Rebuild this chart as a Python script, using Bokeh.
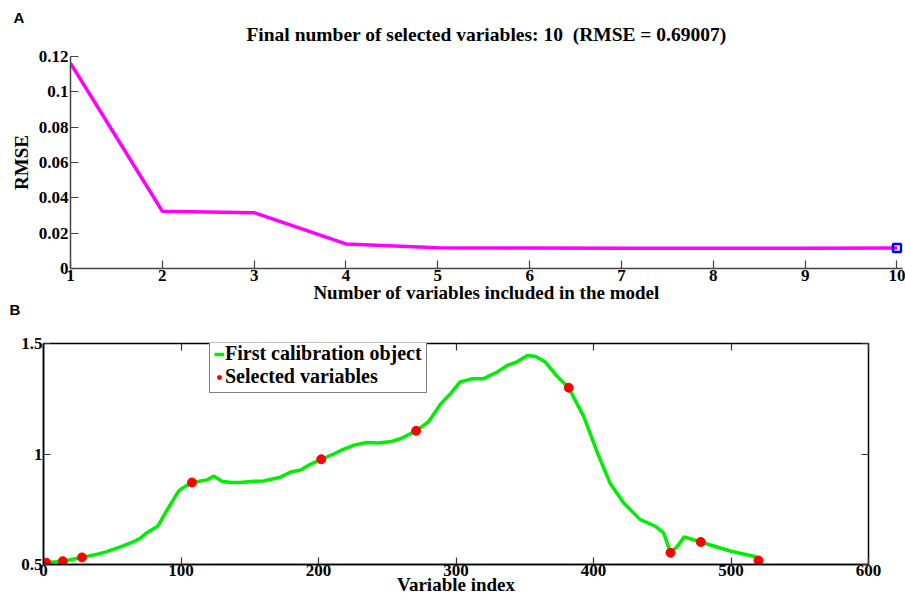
from bokeh.plotting import figure
from bokeh.models import (FixedTicker, LinearAxis, Legend, LegendItem, Range1d, Title,
                          CustomJSTickFormatter)
from bokeh.embed import file_html
from bokeh.resources import INLINE

# ---------------- data ----------------
n_vars = [1, 2, 3, 4, 5, 6, 7, 8, 9, 10]
rmse = [0.1162, 0.0324, 0.0316, 0.0139, 0.0118, 0.0116, 0.0115, 0.0115, 0.0115, 0.0116]
final_n = [10]
final_rmse = [0.0116]

top_yticks = [0, 0.02, 0.04, 0.06, 0.08, 0.1, 0.12]
top_ylabels = ["0", "0.02", "0.04", "0.06", "0.08", "0.1", "0.12"]
top_xticks = [1, 2, 3, 4, 5, 6, 7, 8, 9, 10]

var_index = [0, 2, 14, 28, 40, 46, 58, 66, 70, 75, 83, 90, 98, 100, 108, 119, 124, 130,
             137, 143, 153, 160, 172, 180, 187, 194, 202, 211, 218, 226, 235, 243, 252,
             260, 271, 280, 289, 296, 303, 312, 320, 330, 337, 344, 352, 358, 365, 374,
             382, 393, 403, 412, 422, 434, 445, 451, 456, 461, 466, 478, 500, 518, 520]
spectrum = [0.507, 0.508, 0.515, 0.532, 0.548, 0.558, 0.584, 0.605, 0.617, 0.643, 0.673,
            0.748, 0.830, 0.842, 0.871, 0.883, 0.900, 0.876, 0.871, 0.871, 0.877, 0.878,
            0.895, 0.919, 0.928, 0.953, 0.976, 1.000, 1.021, 1.040, 1.052, 1.050, 1.055,
            1.070, 1.105, 1.146, 1.228, 1.273, 1.326, 1.341, 1.341, 1.371, 1.400, 1.416,
            1.446, 1.441, 1.416, 1.348, 1.300, 1.168, 1.003, 0.868, 0.778, 0.703, 0.673,
            0.643, 0.553, 0.582, 0.625, 0.602, 0.560, 0.535, 0.525]
sel_index = [2, 14, 28, 108, 202, 271, 382, 456, 478, 520]
sel_value = [0.508, 0.515, 0.532, 0.871, 0.976, 1.105, 1.300, 0.553, 0.602, 0.518]

bot_xticks = [0, 100, 200, 300, 400, 500, 600]
bot_yticks = [0.5, 1, 1.5]
bot_ylabels = ["0.5", "1", "1.5"]

title_text = "Final number of selected variables: 10\u00a0 (RMSE = 0.69007)"

SERIF = "Liberation Serif"
SANS = "Liberation Sans"


def style_axis(ax, tick_color, tick_len):
    ax.major_tick_line_color = tick_color
    ax.major_tick_line_width = 1.2
    ax.major_tick_in = tick_len
    ax.major_tick_out = 0
    ax.minor_tick_line_color = None
    ax.major_label_text_font = SERIF
    ax.major_label_text_font_style = "bold"
    ax.major_label_text_font_size = "17px"
    ax.major_label_text_color = "black"
    ax.axis_label_text_font = SERIF
    ax.axis_label_text_font_style = "bold"
    ax.axis_label_text_font_size = "19px"
    ax.axis_label_text_color = "black"


# ---------------- panel A ----------------
letter_a = Title(text="A", align="left", offset=-57, standoff=-32,
                 text_font=SANS, text_font_style="bold", text_font_size="15px",
                 text_color="black")
p1 = figure(width=905, height=325, output_backend="svg", toolbar_location=None,
            title=letter_a,
            x_range=Range1d(1, 10.06), y_range=Range1d(0, 0.12),
            min_border_left=70, min_border_right=3, min_border_top=56, min_border_bottom=57)
main_title = Title(text=title_text, align="center", standoff=24,
                   text_font=SERIF, text_font_size="19.5px", text_font_style="bold",
                   text_color="black")
p1.add_layout(main_title, "above")
letter_b = Title(text="B", align="left", offset=-61, standoff=-13,
                 text_font=SANS, text_font_style="bold", text_font_size="15px",
                 text_color="black")
p1.add_layout(letter_b, "below")

p1.outline_line_color = None
p1.xgrid.visible = False
p1.ygrid.visible = False

p1.line(n_vars, rmse, line_color="#FF00FF", line_width=3.5)
p1.scatter(final_n, final_rmse, marker="square", size=8, line_color="#0000FF",
           fill_color=None, line_width=2.5)

for ax in (p1.xaxis[0], p1.yaxis[0]):
    ax.axis_line_color = "#444444"
    ax.axis_line_width = 1.5
    style_axis(ax, "#444444", 8)

p1.xaxis.ticker = FixedTicker(ticks=top_xticks)
p1.xaxis.axis_label = "Number of variables included in the model"
p1.xaxis.major_label_standoff = 1
p1.xaxis.axis_label_standoff = -2
p1.yaxis.ticker = FixedTicker(ticks=top_yticks)
p1.yaxis.major_label_overrides = {t: l for t, l in zip(top_yticks, top_ylabels)}
p1.yaxis.axis_label = "RMSE"
p1.yaxis.major_label_standoff = 2
p1.yaxis.axis_label_standoff = 4

# ---------------- panel B ----------------
p2 = figure(width=905, height=275, output_backend="svg", toolbar_location=None,
            x_range=Range1d(0, 600), y_range=Range1d(0.5, 1.5),
            min_border_left=43, min_border_right=37, min_border_top=18, min_border_bottom=36)
p2.outline_line_color = "black"
p2.outline_line_width = 1.5
p2.xgrid.visible = False
p2.ygrid.visible = False

l1 = p2.line(var_index, spectrum, line_color="#00EE00", line_width=3.5)
s1 = p2.scatter(sel_index, sel_value, marker="circle", size=9, fill_color="#FF0000",
                line_color="#FF0000")

for ax in (p2.xaxis[0], p2.yaxis[0]):
    ax.axis_line_color = "black"
    ax.axis_line_width = 1.5
    style_axis(ax, "#333333", 7)

p2.xaxis.ticker = FixedTicker(ticks=bot_xticks)
p2.xaxis.axis_label = "Variable index"
p2.xaxis.major_label_standoff = 0
p2.xaxis.axis_label_standoff = -5
p2.yaxis.ticker = FixedTicker(ticks=bot_yticks)
p2.yaxis.major_label_overrides = {t: l for t, l in zip(bot_yticks, bot_ylabels)}
p2.yaxis.major_label_standoff = 1

blank = CustomJSTickFormatter(code="return '';")
top_ax = LinearAxis(ticker=FixedTicker(ticks=bot_xticks), formatter=blank,
                    axis_line_color=None, major_tick_in=7, major_tick_out=0,
                    major_tick_line_color="#333333", major_tick_line_width=1.2,
                    minor_tick_line_color=None, major_label_standoff=0)
right_ax = LinearAxis(ticker=FixedTicker(ticks=bot_yticks), formatter=blank,
                      axis_line_color=None, major_tick_in=7, major_tick_out=0,
                      major_tick_line_color="#333333", major_tick_line_width=1.2,
                      minor_tick_line_color=None, major_label_standoff=0)
p2.add_layout(top_ax, "above")
p2.add_layout(right_ax, "right")

legend = Legend(items=[LegendItem(label="First calibration object", renderers=[l1]),
                       LegendItem(label="Selected variables", renderers=[s1])],
                location=(166, 171), orientation="vertical",
                label_text_font=SERIF, label_text_font_style="bold",
                label_text_font_size="20px", label_text_color="black",
                label_height=20, glyph_height=20, label_width=196,
                glyph_width=10, label_standoff=1, spacing=0, padding=4, margin=0,
                border_line_color="black", border_line_width=1.5,
                background_fill_alpha=1.0)
p2.add_layout(legend, "center")

open("out.html", "w").write(file_html([p1, p2], INLINE))
